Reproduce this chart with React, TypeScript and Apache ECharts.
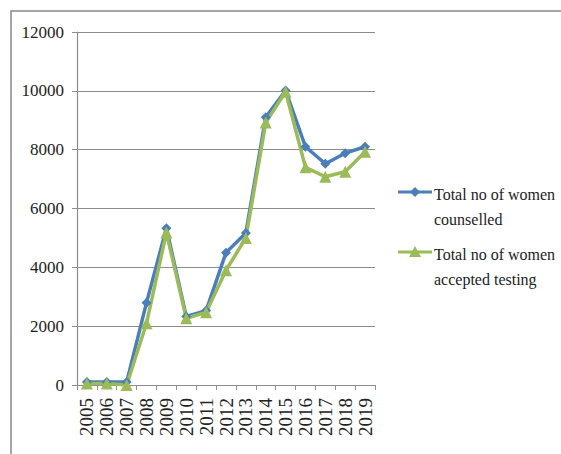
import React, { useEffect, useRef } from "react";
import * as echarts from "echarts";

const years = ["2005","2006","2007","2008","2009","2010","2011","2012","2013","2014","2015","2016","2017","2018","2019"];
const counselled = [100, 100, 100, 2800, 5330, 2330, 2530, 4500, 5170, 9100, 10010, 8100, 7520, 7880, 8100];
const acceptedTesting = [50, 50, 0, 2100, 5180, 2270, 2470, 3900, 5000, 8920, 9970, 7400, 7080, 7250, 7930];
const seriesNames = ["Total no of women counselled", "Total no of women accepted testing"];
const legendLines = [["Total no of women", "counselled"], ["Total no of women", "accepted testing"]];

const BLUE = "#4a7ebb";
const GREEN = "#9bbb59";
const FONT = "Liberation Serif";

export default function App() {
  const ref = useRef<HTMLDivElement>(null);
  useEffect(() => {
    const chart = echarts.init(ref.current!, null, { renderer: "svg" });
    const legendItem = (i: number, y: number, color: string, tri: boolean) => {
      const mx = 415;
      const marker = tri
        ? { type: "polygon", shape: { points: [[mx, y - 6], [mx + 6, y + 5], [mx - 6, y + 5]] }, style: { fill: color } }
        : { type: "polygon", shape: { points: [[mx, y - 5], [mx + 5, y], [mx, y + 5], [mx - 5, y]] }, style: { fill: color } };
      return [
        { type: "line", shape: { x1: 398, y1: y, x2: 432, y2: y }, style: { stroke: color, lineWidth: 3 } },
        marker,
        { type: "text", x: 434, y: y - 10, style: { text: legendLines[i].join("\n"), font: `16px "${FONT}"`, fill: "#222", lineHeight: 25 } },
      ];
    };
    chart.setOption({
      animation: false,
      backgroundColor: "#fff",
      grid: { left: 77, right: 186, top: 32, bottom: 69 },
      xAxis: {
        type: "category",
        data: years,
        boundaryGap: true,
        axisLine: { lineStyle: { color: "#8c8c8c", width: 1.2 } },
        axisTick: { show: true, length: 5, alignWithLabel: false, lineStyle: { color: "#8c8c8c" } },
        axisLabel: { rotate: 90, margin: 13, color: "#222", fontFamily: FONT, fontSize: 19, interval: 0 },
      },
      yAxis: {
        type: "value",
        min: 0,
        max: 12000,
        interval: 2000,
        axisLine: { show: true, lineStyle: { color: "#8c8c8c", width: 1.2 } },
        axisTick: { show: true, length: 5, lineStyle: { color: "#8c8c8c" } },
        axisLabel: { margin: 13, color: "#222", fontFamily: FONT, fontSize: 17, formatter: (v: number) => String(v) },
        splitLine: { lineStyle: { color: "#8c8c8c", width: 1.2 } },
      },
      series: [
        {
          name: seriesNames[0], type: "line", data: counselled,
          symbol: "diamond", symbolSize: 10,
          lineStyle: { color: BLUE, width: 3.5 }, itemStyle: { color: BLUE },
        },
        {
          name: seriesNames[1], type: "line", data: acceptedTesting,
          symbol: "triangle", symbolSize: 12,
          lineStyle: { color: GREEN, width: 3.5 }, itemStyle: { color: GREEN },
        },
      ],
      graphic: [
        { type: "rect", shape: { x: 11, y: 11, width: 600, height: 500 }, style: { fill: "none", stroke: "#888", lineWidth: 1.5 } },
        ...legendItem(0, 192, BLUE, false),
        ...legendItem(1, 252, GREEN, true),
      ],
    });
    return () => chart.dispose();
  }, []);
  return <div ref={ref} style={{ position: "fixed", left: 0, top: 0, width: 561, height: 454 }} />;
}
